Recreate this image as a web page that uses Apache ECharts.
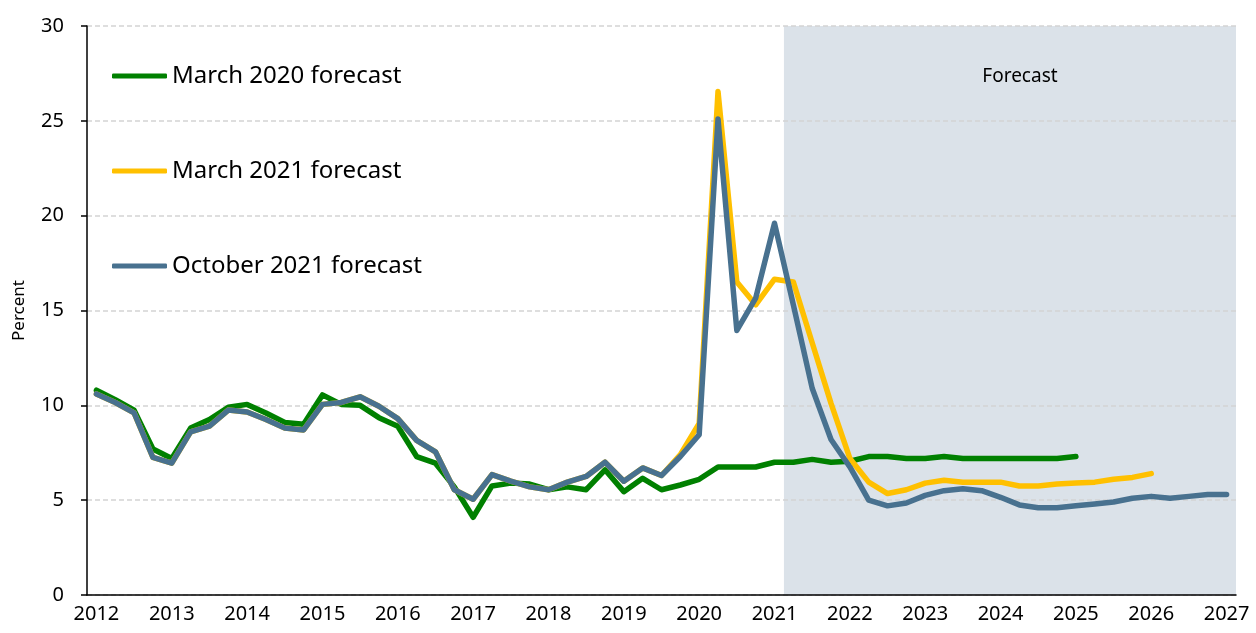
<!DOCTYPE html>
<html>
<head>
<meta charset="utf-8">
<script src="https://cdn.jsdelivr.net/npm/echarts@6/dist/echarts.min.js"></script>
<style>
  html, body { margin: 0; padding: 0; background: #fff; }
  #chart { width: 1256px; height: 633px; }
</style>
</head>
<body>
<div id="chart"></div>
<script>
// quarterly categories 2012 Q1 .. 2027 Q1
const quarters = [];
for (let y = 2012; y <= 2027; y++) {
  for (let q = 1; q <= 4; q++) {
    if (y === 2027 && q > 1) break;
    quarters.push(y + ' Q' + q);
  }
}

const march2020 = [
  10.8, 10.3, 9.75, 7.7, 7.2, 8.8, 9.25, 9.9, 10.05, 9.6, 9.1, 9.0,
  10.55, 10.05, 10.0, 9.35, 8.9, 7.3, 6.95, 5.7, 4.1, 5.75, 5.9, 5.85,
  5.55, 5.7, 5.55, 6.6, 5.45, 6.15, 5.55, 5.8, 6.1, 6.75, 6.75, 6.75,
  7.0, 7.0, 7.15, 7.0, 7.05, 7.3, 7.3, 7.2, 7.2, 7.3, 7.2, 7.2,
  7.2, 7.2, 7.2, 7.2, 7.3
];

const march2021 = [
  10.6, 10.15, 9.6, 7.25, 6.95, 8.6, 8.9, 9.75, 9.65, 9.25, 8.8, 8.7,
  10.05, 10.15, 10.45, 9.95, 9.3, 8.15, 7.55, 5.55, 5.05, 6.35, 6.0, 5.7,
  5.55, 5.95, 6.25, 7.0, 6.0, 6.7, 6.3, 7.4, 9.05, 26.55, 16.5, 15.3,
  16.65, 16.5, 13.3, 10.1, 7.2, 5.95, 5.35, 5.55, 5.9, 6.05, 5.95, 5.95,
  5.95, 5.75, 5.75, 5.85, 5.9, 5.95, 6.1, 6.2, 6.4
];

const october2021 = [
  10.6, 10.15, 9.6, 7.25, 6.95, 8.6, 8.9, 9.75, 9.65, 9.25, 8.8, 8.7,
  10.05, 10.15, 10.45, 9.95, 9.3, 8.15, 7.55, 5.55, 5.05, 6.35, 6.0, 5.7,
  5.55, 5.95, 6.25, 7.0, 6.0, 6.7, 6.3, 7.3, 8.45, 25.1, 13.95, 15.65,
  19.6, 15.3, 10.9, 8.2, 6.75, 5.0, 4.7, 4.85, 5.25, 5.5, 5.6, 5.5,
  5.15, 4.75, 4.6, 4.6, 4.7, 4.8, 4.9, 5.1, 5.2, 5.1, 5.2, 5.3, 5.3
];

// forecast period: from start of 2021 Q2 to end of axis (category boundaries)
const forecastStart = 37;
const forecastEnd = 61;

const FONT = 'Noto Sans';

const chart = echarts.init(document.getElementById('chart'));

function lineSeries(name, data, color) {
  return {
    name: name,
    type: 'line',
    data: data,
    symbol: 'none',
    z: 3,
    lineStyle: { width: 5.5, color: color, cap: 'round', join: 'round' },
    itemStyle: { color: color }
  };
}

chart.setOption({
  animation: false,
  grid: { left: 87, right: 20, top: 26, bottom: 38 },
  legend: {
    data: ['March 2020 forecast', 'March 2021 forecast', 'October 2021 forecast'],
    orient: 'vertical',
    left: 107,
    top: 59,
    icon: 'roundRect',
    itemWidth: 55,
    itemHeight: 5,
    itemGap: 71,
    textStyle: { fontFamily: FONT, fontSize: 24, color: '#000', lineHeight: 24 }
  },
  xAxis: [{
    type: 'category',
    data: quarters,
    boundaryGap: true,
    z: 2,
    axisLine: { lineStyle: { color: '#000', width: 1.5 } },
    axisTick: { interval: 3, length: 6, lineStyle: { color: '#000', width: 1.5 } },
    axisLabel: {
      interval: 3,
      margin: 9,
      fontFamily: FONT,
      fontSize: 20,
      color: '#000',
      formatter: v => v.slice(0, 4)
    },
    splitLine: { show: false }
  }, {
    type: 'value',
    min: 0,
    max: forecastEnd,
    show: false
  }],
  yAxis: {
    type: 'value',
    min: 0,
    max: 30,
    interval: 5,
    z: 2,
    name: 'Percent',
    nameLocation: 'middle',
    nameGap: 59,
    nameTextStyle: { fontFamily: FONT, fontSize: 17, color: '#000' },
    axisLine: { show: true, lineStyle: { color: '#000', width: 1.5 } },
    axisTick: { show: true, length: 6, lineStyle: { color: '#000', width: 1.5 } },
    axisLabel: { margin: 23, fontFamily: FONT, fontSize: 20, color: '#000' },
    splitLine: { lineStyle: { color: '#d4d4d4', width: 1.5, type: [5, 3] } }
  },
  series: [
    {
      name: 'forecastShade',
      type: 'line',
      xAxisIndex: 1,
      data: [],
      silent: true,
      markArea: {
        silent: true,
        z: 1,
        itemStyle: { color: '#dbe2e9' },
        label: {
          show: true,
          position: 'insideTop',
          offset: [10, 36],
          fontFamily: FONT,
          fontSize: 19,
          color: '#000'
        },
        data: [[{ xAxis: forecastStart, name: 'Forecast' }, { xAxis: forecastEnd }]]
      }
    },
    lineSeries('March 2020 forecast', march2020, '#008000'),
    lineSeries('March 2021 forecast', march2021, '#ffc000'),
    lineSeries('October 2021 forecast', october2021, '#48718f')
  ]
});
</script>
</body>
</html>
